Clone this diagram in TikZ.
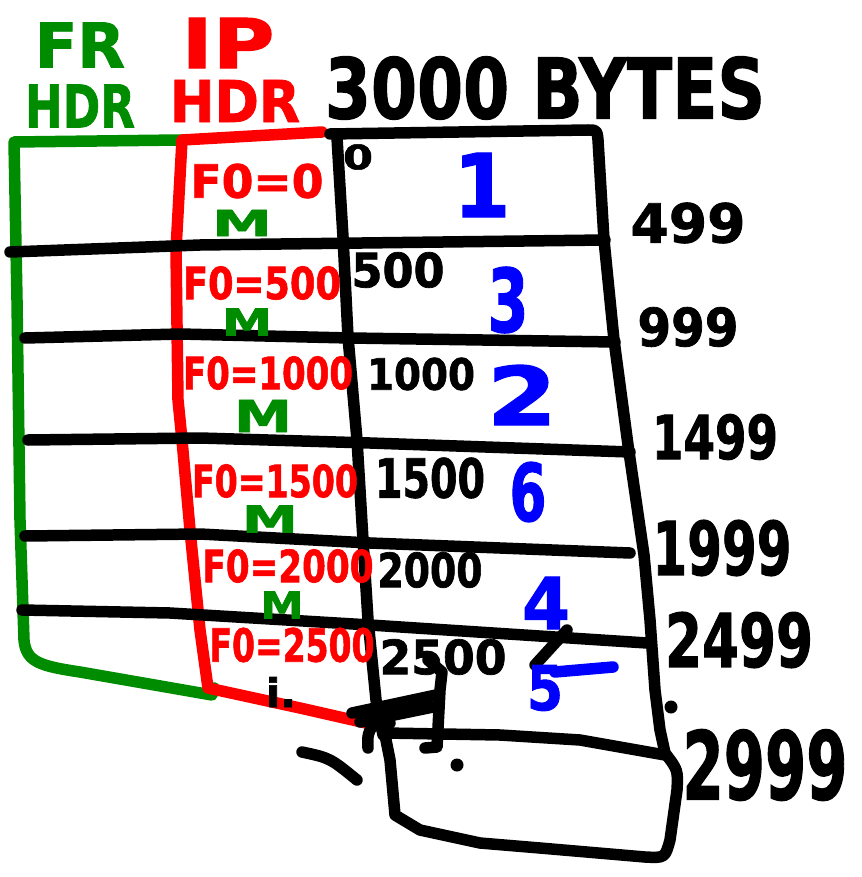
\documentclass[tikz,border=0pt]{standalone}
\usepackage{fontspec}
\newfontfamily\hand{DejaVu Sans Bold}[FakeBold=1.5]
\definecolor{pgreen}{RGB}{0,140,0}
\definecolor{pred}{RGB}{255,0,0}
\definecolor{pblue}{RGB}{0,0,255}
\newcommand{\hw}[3]{\resizebox{#1pt}{#2pt}{\hand #3}}
\begin{document}
\begin{tikzpicture}[x=1pt,y=-1pt,
  pen/.style={line width=11.5pt,line cap=round,line join=round},
  txt/.style={inner sep=0pt,outer sep=0pt,anchor=center}]
\useasboundingbox[fill=white] (0,0) rectangle (861,877);
% green frame header box
\draw[pen,pgreen] (180,140) -- (14,142) -- (17,300) -- (20,520) -- (24,640)
  .. controls (26,662) and (40,666) .. (80,672) -- (212,695) -- (214,688);
% red IP header box
\draw[pen,pred] (322,132) -- (182,140) -- (176,250) -- (178,400) -- (182,440)
  -- (190,530) -- (200,630) -- (208,688) -- (300,708) -- (388,728);
% data box
\draw[pen] (337,138) -- (343,237) -- (348,337) -- (357,440) -- (363,540)
  -- (368,620) -- (376,700) -- (383,735);
\draw[pen] (330,134) -- (588,130) .. controls (597,130) .. (598,140) -- (604,240)
  -- (614,340) -- (628,445) -- (644,555) -- (650,620) -- (655,690) -- (660,730)
  -- (665,753) .. controls (678,770) .. (677,790) -- (670,840)
  .. controls (665,858) .. (645,857) -- (540,848) -- (480,843) -- (420,830)
  -- (395,815) -- (390,760) -- (385,735);
% horizontal lines
\draw[pen] (10,252) -- (200,245) -- (605,240);
\draw[pen] (25,338) -- (180,334) -- (350,338) -- (615,342);
\draw[pen] (28,440) -- (200,438) -- (370,443) -- (630,452);
\draw[pen] (25,536) -- (200,534) -- (370,543) -- (630,553);
\draw[pen] (22,610) -- (170,613) -- (370,625) -- (647,643);
\draw[pen] (385,733) -- (500,735) -- (580,740) -- (665,755);
% scribbles
\draw[pen] (352,713) -- (436,695);
\draw[pen] (360,722) -- (438,706);
\draw[pen] (368,748) .. controls (366,725) and (375,722) .. (390,723);
\draw[pen] (428,660) -- (442,672) -- (440,690) -- (437,747) -- (425,748);
\draw[pen] (302,752) .. controls (330,758) .. (357,780);
\draw[pen] (567,630) -- (535,665);
\draw[pen,pblue] (555,672) -- (613,667);
\fill (457,765) circle (6.5pt);
\fill (671,707) circle (6.5pt);
% titles
\node[txt,pgreen] (fr) at (80,45) {\hw{90}{45}{FR}};
\node[txt,pgreen] (frh) at (80,106) {\hw{110}{43}{HDR}};
\node[txt,pred] (ip) at (228,43) {\hw{93}{50}{IP}};
\node[txt,pred] (iph) at (235,101) {\hw{130}{42}{HDR}};
\node[txt] (bytes) at (545,88) {\hw{440}{62}{3000 BYTES}};
% fragment offsets (red) and more-fragments flags (green)
\node[txt,pred] (f0) at (257,181) {\hw{133}{34}{F0=0}};
\node[txt,pgreen] (m0) at (242,223) {\hw{60}{26}{M}};
\node[txt,pred] (f1) at (262,283) {\hw{158}{33}{F0=500}};
\node[txt,pgreen] (m1) at (247,322) {\hw{50}{27}{M}};
\node[txt,pred] (f2) at (268,373) {\hw{170}{33}{F0=1000}};
\node[txt,pgreen] (m2) at (263,416) {\hw{58}{32}{M}};
\node[txt,pred] (f3) at (275,481) {\hw{166}{33}{F0=1500}};
\node[txt,pgreen] (m3) at (270,519) {\hw{56}{27}{M}};
\node[txt,pred] (f4) at (288,566) {\hw{171}{33}{F0=2000}};
\node[txt,pgreen] (m4) at (282,605) {\hw{43}{27}{M}};
\node[txt,pred] (f5) at (292,645) {\hw{165}{34}{F0=2500}};
\node[txt] (i5) at (281,692) {\hw{30}{30}{i.}};
% byte offsets (black)
\node[txt] (o0) at (358,157) {\hw{30}{25}{0}};
\node[txt] (o1) at (398,270) {\hw{93}{35}{500}};
\node[txt] (o2) at (421,374) {\hw{108}{32}{1000}};
\node[txt] (o3) at (430,478) {\hw{110}{40}{1500}};
\node[txt] (o4) at (430,570) {\hw{105}{35}{2000}};
\node[txt] (o5) at (443,657) {\hw{127}{35}{2500}};
% arrival order (blue)
\node[txt,pblue] (a1) at (482,185) {\hw{57}{64}{1}};
\node[txt,pblue] (a3) at (508,300) {\hw{41}{65}{3}};
\node[txt,pblue] (a2) at (522,395) {\hw{70}{60}{2}};
\node[txt,pblue] (a6) at (528,492) {\hw{37}{59}{6}};
\node[txt,pblue] (a4) at (546,603) {\hw{48}{52}{4}};
\node[txt,pblue] (a5) at (545,688) {\hw{36}{45}{5}};
% end offsets (black)
\node[txt] (e0) at (688,223) {\hw{115}{40}{499}};
\node[txt] (e1) at (688,327) {\hw{101}{39}{999}};
\node[txt] (e2) at (715,437) {\hw{126}{45}{1499}};
\node[txt] (e3) at (722,548) {\hw{139}{55}{1999}};
\node[txt] (e4) at (739,640) {\hw{148}{55}{2499}};
\node[txt] (e5) at (765,765) {\hw{165}{70}{2999}};
\end{tikzpicture}
\end{document}
